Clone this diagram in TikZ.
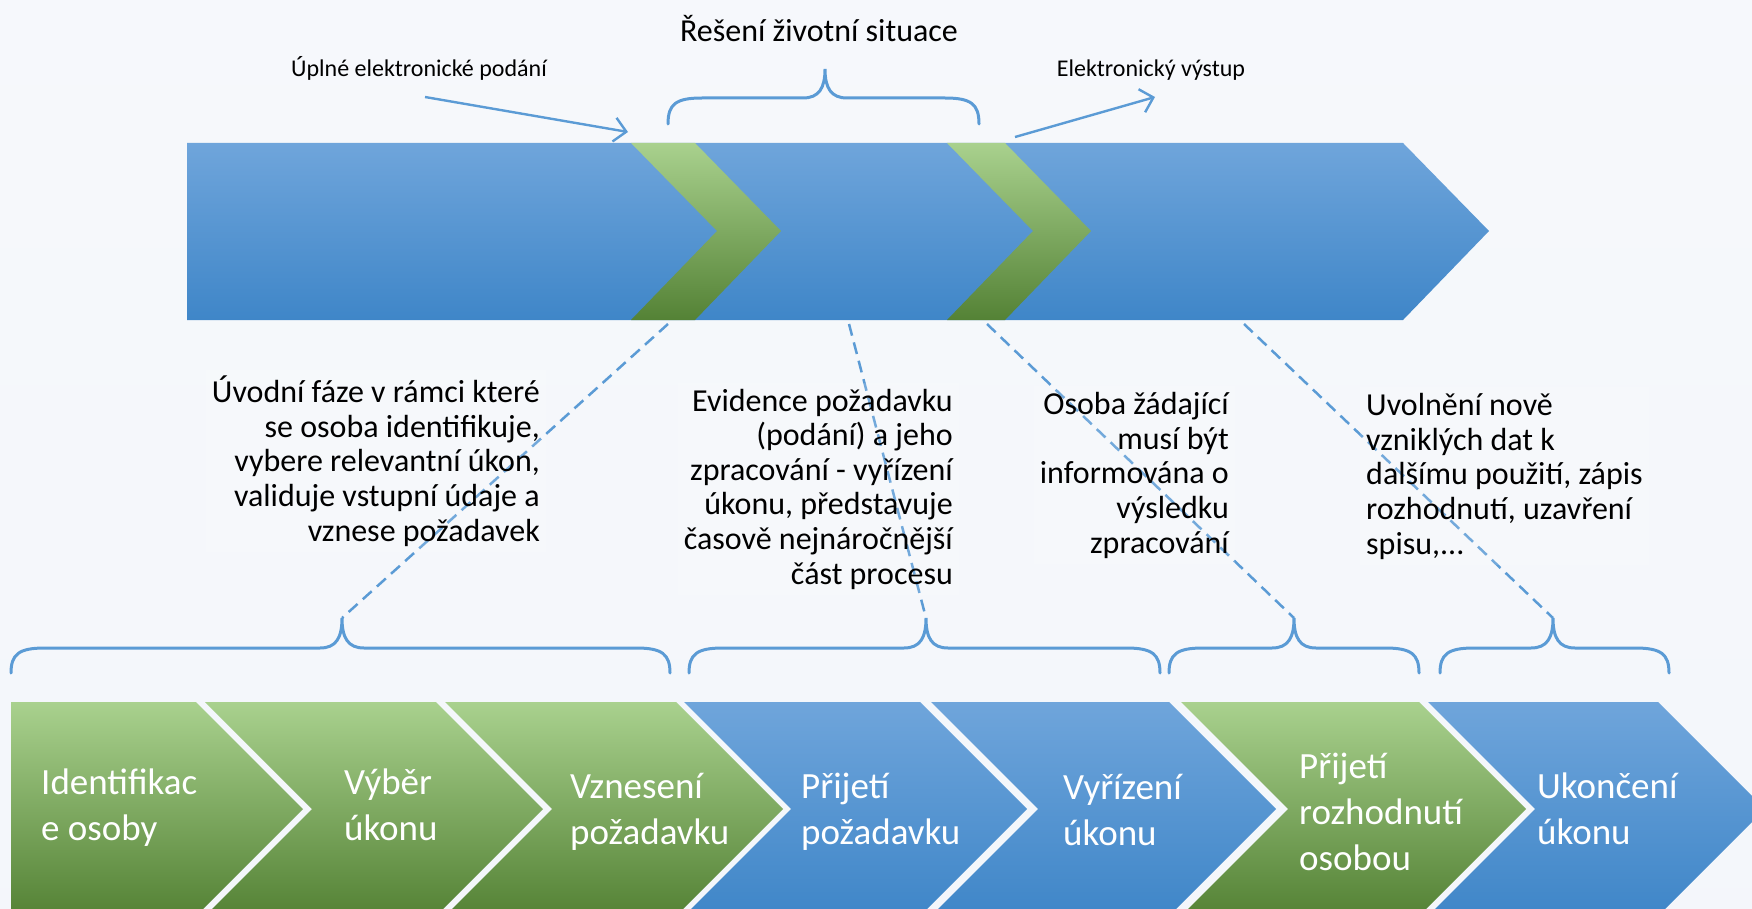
\documentclass[tikz,border=0pt]{standalone}
\usepackage{fontspec}
\setmainfont{Carlito}
\usetikzlibrary{arrows.meta}
\definecolor{lineblue}{HTML}{5B9BD5}
\definecolor{bgA}{HTML}{D9E1EE}
\definecolor{bgB}{HTML}{EEF2F8}
\definecolor{bgC}{HTML}{F7F9FC}
\definecolor{bgD}{HTML}{ECF0F7}
\definecolor{bgE}{HTML}{DFE5F0}
\definecolor{bluetop}{HTML}{6FA5DB}
\definecolor{bluebot}{HTML}{3F86C8}
\definecolor{greentop}{HTML}{A9D18E}
\definecolor{greenbot}{HTML}{548235}
\pgfdeclareverticalshading{bgshade}{1752pt}{color(0pt)=(bgE); color(250pt)=(bgD); color(500pt)=(bgC); color(700pt)=(bgB); color(909pt)=(bgA)}
\tikzset{
  bluefill/.style={top color=bluetop, bottom color=bluebot},
  greenfill/.style={top color=greentop, bottom color=greenbot},
  bracestyle/.style={draw=lineblue, line width=3pt, line cap=round},
  dashlink/.style={draw=lineblue, line width=2.5pt, dash pattern=on 12pt off 7pt},
  arrowlink/.style={draw=lineblue, line width=2.4pt, -{Straight Barb[length=12pt,width=24pt,line width=2.4pt]}},
  chevtext/.style={text=white, font=\fontsize{37}{46}\selectfont, align=left, anchor=base west, inner sep=0pt},
  desctext/.style={text=black, font=\fontsize{32}{34.6}\selectfont, inner sep=6pt, fill=white, fill opacity=0.15, text opacity=1},
  labeltext/.style={text=black, font=\fontsize{24}{28}\selectfont, anchor=base, inner sep=0pt}
}
% brace: x1, x2, xtip, yline, yend, ytip
\newcommand{\mybrace}[6]{%
  \draw[bracestyle] (#1,#5) .. controls (#1,#4+6) and (#1+8,#4) .. (#1+34,#4)
    -- (#3-22,#4) .. controls (#3-6,#4) and (#3,#4-10) .. (#3,#6)
    .. controls (#3,#4-10) and (#3+6,#4) .. (#3+22,#4)
    -- (#2-34,#4) .. controls (#2-8,#4) and (#2,#4+6) .. (#2,#5);}
\begin{document}
\begin{tikzpicture}[x=1pt,y=-1pt]
\useasboundingbox (0,0) rectangle (1752,909);
\shade[shading=bgshade] (0,0) rectangle (1752,909);

% ---- top banner
\shade[bluefill] (187,143) -- (1403,143) -- (1489,231) -- (1403,320) -- (187,320) -- cycle;
\shade[greenfill] (631,143) -- (695,143) -- (781,231) -- (695,320) -- (631,320) -- (717,231) -- cycle;
\shade[greenfill] (947,143) -- (1005,143) -- (1091,231) -- (1005,320) -- (947,320) -- (1033,231) -- cycle;

% ---- top labels
\node[labeltext, font=\fontsize{32}{36}\selectfont] (title) at (819,42) {Řešení životní situace};
\node[labeltext] (inlabel) at (419,77) {Úplné elektronické podání};
\node[labeltext] (outlabel) at (1151,77) {Elektronický výstup};

\mybrace{668}{979}{825}{98}{124}{69}

\coordinate (inA) at (425,97);
\coordinate (inB) at (628,132);
\coordinate (outA) at (1015,137);
\coordinate (outB) at (1155,97);
\draw[arrowlink] (inA) -- (inB);
\draw[arrowlink] (outA) -- (outB);

% ---- bottom braces
\mybrace{11}{670}{342}{648}{673}{618}
\mybrace{689}{1160}{926}{648}{673}{618}
\mybrace{1169}{1419}{1294}{648}{673}{618}
\mybrace{1440}{1669}{1553}{648}{673}{618}

\coordinate (t1) at (668,324);
\coordinate (t2) at (849,324);
\coordinate (t3) at (987,324);
\coordinate (t4) at (1244,324);
\coordinate (b1) at (342,618);
\coordinate (b2) at (926,618);
\coordinate (b3) at (1294,618);
\coordinate (b4) at (1553,618);
\draw[dashlink] (t1) -- (b1);
\draw[dashlink] (t2) -- (b2);
\draw[dashlink] (t3) -- (b3);
\draw[dashlink] (t4) -- (b4);

% ---- description texts (base = last line)
\node[desctext, align=right, anchor=base east] (d1) at (546,541)
  {Úvodní fáze v rámci které\\se osoba identifikuje,\\vybere relevantní úkon,\\validuje vstupní údaje a\\vznese požadavek};
\node[desctext, align=right, anchor=base east] (d2) at (959,584)
  {Evidence požadavku\\(podání) a jeho\\zpracování - vyřízení\\úkonu, představuje\\časově nejnáročnější\\část procesu};
\node[desctext, align=right, anchor=base east] (d3) at (1235,553)
  {Osoba žádající\\musí být\\informována o\\výsledku\\zpracování};
\node[desctext, align=left, anchor=base west] (d4) at (1360,554)
  {Uvolnění nově\\vzniklých dat k\\dalšímu použití, zápis\\rozhodnutí, uzavření\\spisu,...};

% ---- bottom chevrons
\shade[greenfill] (11,702) -- (196,702) -- (303,809) -- (196,916) -- (11,916) -- cycle;
\shade[greenfill] (205,702) -- (436,702) -- (543,809) -- (436,916) -- (205,916) -- (312,809) -- cycle;
\shade[greenfill] (445,702) -- (676,702) -- (783,809) -- (676,916) -- (445,916) -- (552,809) -- cycle;
\shade[bluefill] (684,702) -- (920,702) -- (1027,809) -- (920,916) -- (684,916) -- (791,809) -- cycle;
\shade[bluefill] (931,702) -- (1169,702) -- (1276,809) -- (1169,916) -- (931,916) -- (1038,809) -- cycle;
\shade[greenfill] (1181,702) -- (1419,702) -- (1526,809) -- (1419,916) -- (1181,916) -- (1288,809) -- cycle;
\shade[bluefill] (1428,702) -- (1658,702) -- (1765,809) -- (1658,916) -- (1428,916) -- (1535,809) -- cycle;

\node[chevtext] (c1) at (41,840) {Identifikac\\e osoby};
\node[chevtext] (c2) at (344,840) {Výběr\\úkonu};
\node[chevtext] (c3) at (570,844) {Vznesení\\požadavku};
\node[chevtext] (c4) at (801,844) {Přijetí\\požadavku};
\node[chevtext] (c5) at (1063,845) {Vyřízení\\úkonu};
\node[chevtext] (c6) at (1299,870) {Přijetí\\rozhodnutí\\osobou};
\node[chevtext] (c7) at (1537,844) {Ukončení\\úkonu};
\end{tikzpicture}
\end{document}
